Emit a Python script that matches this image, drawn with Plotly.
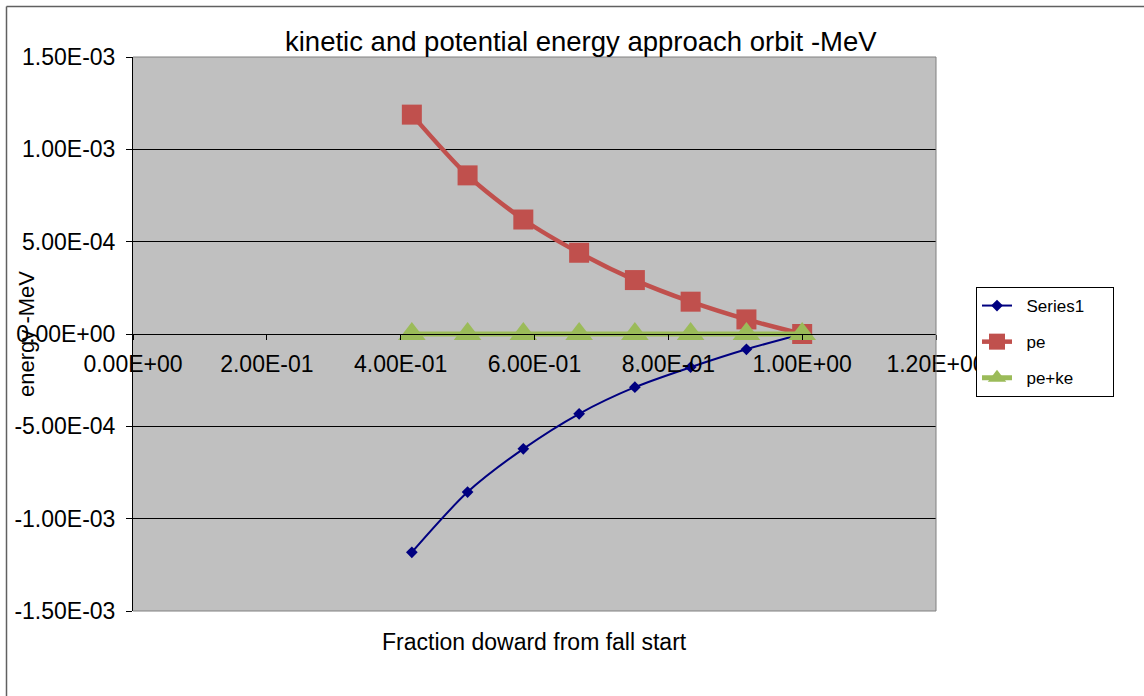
import plotly.graph_objects as go

# ---- data ----
x_frac = [0.4167, 0.5, 0.5833, 0.6667, 0.75, 0.8333, 0.9167, 1.0]
series1 = [-1.182e-3, -0.856e-3, -0.622e-3, -0.432e-3, -0.288e-3, -0.180e-3, -0.083e-3, 0.0]
pe = [1.188e-3, 0.859e-3, 0.620e-3, 0.440e-3, 0.292e-3, 0.175e-3, 0.079e-3, 0.0]
pe_ke = [0.0, 0.0, 0.0, 0.0, 0.0, 0.0, 0.0, 0.0]

x_tickvals = [0.0, 0.2, 0.4, 0.6, 0.8, 1.0, 1.2]
x_ticktext = ["0.00E+00", "2.00E-01", "4.00E-01", "6.00E-01", "8.00E-01", "1.00E+00", "1.20E+00"]
y_tickvals = [-1.5e-3, -1.0e-3, -5.0e-4, 0.0, 5.0e-4, 1.0e-3, 1.5e-3]
y_ticktext = ["-1.50E-03", "-1.00E-03", "-5.00E-04", "0.00E+00", "5.00E-04", "1.00E-03", "1.50E-03"]

series_names = ["Series1", "pe", "pe+ke"]

title_text = "kinetic and potential energy approach orbit -MeV"
x_title = "Fraction doward from fall start"
y_title = "energy -MeV"

FONT = "Liberation Sans, Arial, sans-serif"
NB = "\u00a0"

def legend_name(n):
    return NB * 2 + n + NB * (12 - len(n))

fig = go.Figure()
fig.add_trace(go.Scatter(
    x=x_frac, y=series1, name=legend_name(series_names[0]), mode="lines+markers",
    line=dict(color="#000080", width=2, shape="spline", smoothing=0.8),
    marker=dict(symbol="diamond", size=9, color="#000080"),
    legendgroup="a"))
fig.add_trace(go.Scatter(
    x=x_frac, y=pe, name=legend_name(series_names[1]), mode="lines+markers",
    line=dict(color="#C0504D", width=4.5, shape="spline", smoothing=0.8),
    marker=dict(symbol="square", size=20, color="#C0504D"),
    legendgroup="b"))
fig.add_trace(go.Scatter(
    x=x_frac, y=pe_ke, name=legend_name(series_names[2]), mode="lines+markers",
    line=dict(color="#9BBB59", width=5),
    marker=dict(symbol="triangle-up", size=24, color="#9BBB59"),
    legendgroup="c"))

L, R, T, B = 133, 936, 57, 611
W, H = 1144, 696
pw, ph = R - L, B - T

def px(xp):
    return (xp - L) / pw

def py(yp):
    return (B - yp) / ph

fig.update_layout(
    width=W, height=H,
    margin=dict(l=L, r=W - R, t=T, b=H - B, pad=0),
    paper_bgcolor="white",
    plot_bgcolor="#C0C0C0",
    font=dict(family=FONT, color="black", size=22),
    showlegend=True,
    legend=dict(
        x=px(976), y=py(287), xanchor="left", yanchor="top",
        bgcolor="white", bordercolor="black", borderwidth=1,
        font=dict(family=FONT, size=17, color="black"),
        tracegroupgap=11,
    ),
    xaxis=dict(
        range=[0, 1.2], anchor="free", position=0.5,
        tickvals=x_tickvals, ticktext=x_ticktext,
        showgrid=False, zeroline=False,
        showline=True, linecolor="black", linewidth=1,
        ticks="outside", ticklen=5, tickcolor="black", tickwidth=1,
        tickfont=dict(family=FONT, size=23, color="black"),
        ticklabelstandoff=4,
    ),
    yaxis=dict(
        range=[-1.5e-3, 1.5e-3],
        tickvals=y_tickvals, ticktext=y_ticktext,
        showgrid=True, gridcolor="black", gridwidth=1,
        zeroline=False,
        showline=True, linecolor="black", linewidth=1,
        ticks="outside", ticklen=6, tickcolor="black", tickwidth=1,
        tickfont=dict(family=FONT, size=23, color="black"),
        ticklabelstandoff=6,
    ),
    shapes=[
        dict(type="line", xref="paper", yref="paper", x0=0, x1=1, y0=1, y1=1,
             line=dict(color="#808080", width=1), layer="above"),
        dict(type="line", xref="paper", yref="paper", x0=1, x1=1, y0=0, y1=1,
             line=dict(color="#808080", width=1), layer="above"),
        dict(type="line", xref="paper", yref="paper", x0=0, x1=1, y0=0, y1=0,
             line=dict(color="#808080", width=1), layer="above"),
        # outer chart frame
        dict(type="line", xref="paper", yref="paper", x0=px(6.5), x1=px(1200), y0=py(6.5), y1=py(6.5),
             line=dict(color="#606060", width=1.5), layer="above"),
        dict(type="line", xref="paper", yref="paper", x0=px(6.5), x1=px(6.5), y0=py(6.5), y1=py(720),
             line=dict(color="#606060", width=1.5), layer="above"),
    ],
    annotations=[
        dict(text=title_text, xref="paper", yref="paper", x=px(581), y=py(41),
             xanchor="center", yanchor="middle", showarrow=False,
             font=dict(family=FONT, size=27.5, color="black")),
        dict(text=x_title, xref="paper", yref="paper", x=px(534), y=py(642),
             xanchor="center", yanchor="middle", showarrow=False,
             font=dict(family=FONT, size=23, color="black")),
        dict(text=y_title, xref="paper", yref="paper", x=px(26), y=py(334),
             xanchor="center", yanchor="middle", showarrow=False, textangle=-90,
             font=dict(family=FONT, size=22, color="black")),
    ],
)

fig.write_html("out.html")
